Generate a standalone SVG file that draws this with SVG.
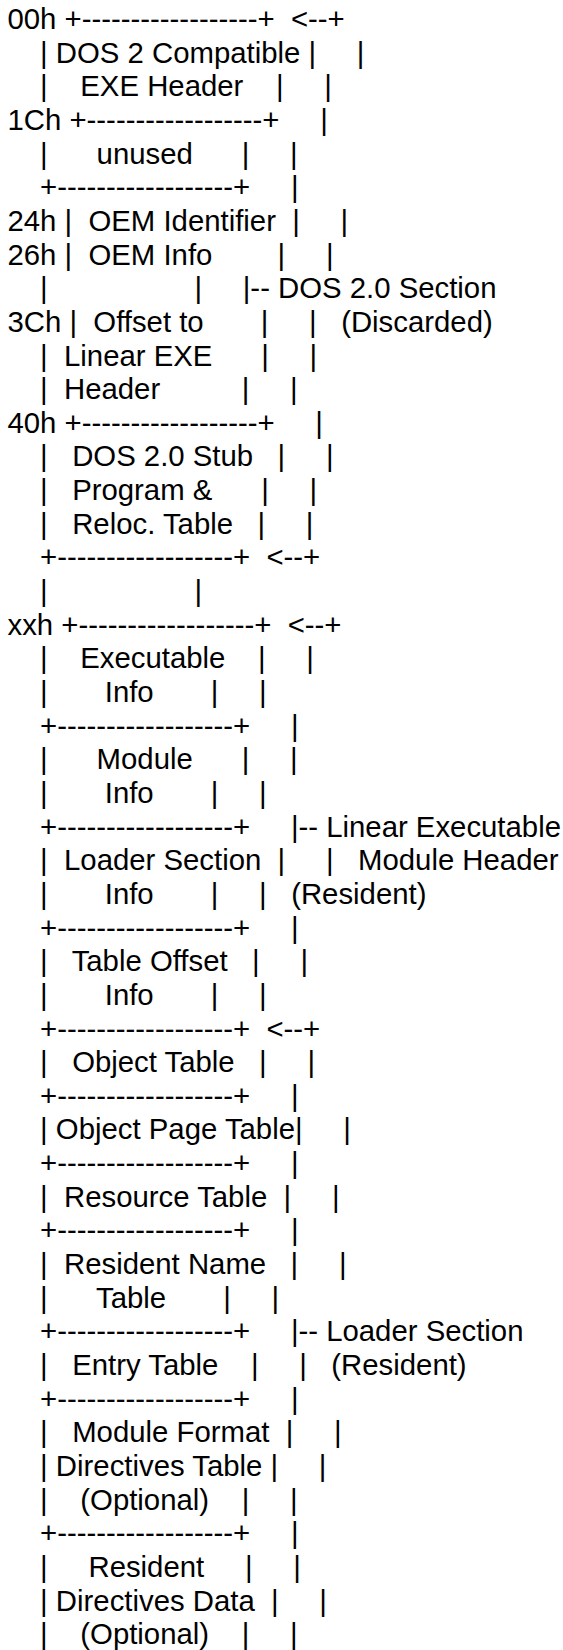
<svg xmlns="http://www.w3.org/2000/svg" width="563" height="1650" viewBox="0 0 563 1650">
<style>
text{font-family:"Liberation Sans",Arial,sans-serif;font-size:29.333px;fill:#000;white-space:pre}
</style>
<rect x="0" y="0" width="563" height="1650" fill="#fff"/>
<g id="diagram" xml:space="preserve">
<g id="dos-section">
<text x="7.5" y="29">00h +------------------+  &lt;--+</text>
<text x="7.5" y="62.65">    | DOS 2 Compatible |     |</text>
<text x="7.5" y="96.3">    |    EXE Header    |     |</text>
<text x="7.5" y="129.95">1Ch +------------------+     |</text>
<text x="7.5" y="163.6">    |      unused      |     |</text>
<text x="7.5" y="197.25">    +------------------+     |</text>
<text x="7.5" y="230.9">24h |  OEM Identifier  |     |</text>
<text x="7.5" y="264.55">26h |  OEM Info        |     |</text>
<text x="7.5" y="298.2">    |                  |     |-- DOS 2.0 Section</text>
<text x="7.5" y="331.85">3Ch |  Offset to       |     |   (Discarded)</text>
<text x="7.5" y="365.5">    |  Linear EXE      |     |</text>
<text x="7.5" y="399.15">    |  Header          |     |</text>
<text x="7.5" y="432.8">40h +------------------+     |</text>
<text x="7.5" y="466.45">    |   DOS 2.0 Stub   |     |</text>
<text x="7.5" y="500.1">    |   Program &amp;      |     |</text>
<text x="7.5" y="533.75">    |   Reloc. Table   |     |</text>
<text x="7.5" y="567.4">    +------------------+  &lt;--+</text>
<text x="7.5" y="601.05">    |                  |</text>
</g>
<g id="le-header">
<text x="7.5" y="634.7">xxh +------------------+  &lt;--+</text>
<text x="7.5" y="668.35">    |    Executable    |     |</text>
<text x="7.5" y="702">    |       Info       |     |</text>
<text x="7.5" y="735.65">    +------------------+     |</text>
<text x="7.5" y="769.3">    |      Module      |     |</text>
<text x="7.5" y="802.95">    |       Info       |     |</text>
<text x="7.5" y="836.6">    +------------------+     |-- Linear Executable</text>
<text x="7.5" y="870.25">    |  Loader Section  |     |   Module Header</text>
<text x="7.5" y="903.9">    |       Info       |     |   (Resident)</text>
<text x="7.5" y="937.55">    +------------------+     |</text>
<text x="7.5" y="971.2">    |   Table Offset   |     |</text>
<text x="7.5" y="1004.85">    |       Info       |     |</text>
</g>
<g id="loader-section">
<text x="7.5" y="1038.5">    +------------------+  &lt;--+</text>
<text x="7.5" y="1072.15">    |   Object Table   |     |</text>
<text x="7.5" y="1105.8">    +------------------+     |</text>
<text x="7.5" y="1139.45">    | Object Page Table|     |</text>
<text x="7.5" y="1173.1">    +------------------+     |</text>
<text x="7.5" y="1206.75">    |  Resource Table  |     |</text>
<text x="7.5" y="1240.4">    +------------------+     |</text>
<text x="7.5" y="1274.05">    |  Resident Name   |     |</text>
<text x="7.5" y="1307.7">    |      Table       |     |</text>
<text x="7.5" y="1341.35">    +------------------+     |-- Loader Section</text>
<text x="7.5" y="1375">    |   Entry Table    |     |   (Resident)</text>
<text x="7.5" y="1408.65">    +------------------+     |</text>
<text x="7.5" y="1442.3">    |   Module Format  |     |</text>
<text x="7.5" y="1475.95">    | Directives Table |     |</text>
<text x="7.5" y="1509.6">    |    (Optional)    |     |</text>
<text x="7.5" y="1543.25">    +------------------+     |</text>
<text x="7.5" y="1576.9">    |     Resident     |     |</text>
<text x="7.5" y="1610.55">    | Directives Data  |     |</text>
<text x="7.5" y="1644.2">    |    (Optional)    |     |</text>
</g>
</g>
</svg>
